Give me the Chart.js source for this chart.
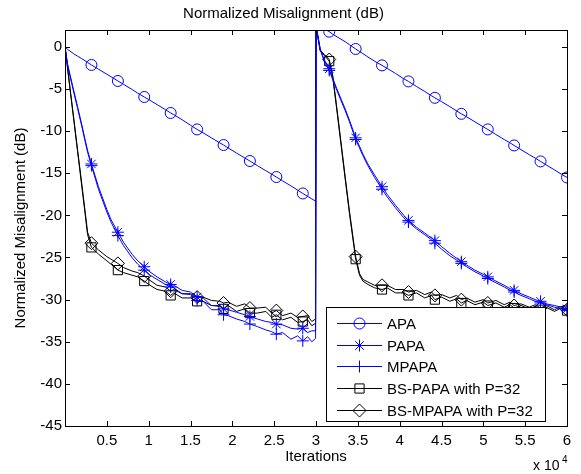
<!DOCTYPE html>
<html><head><meta charset="utf-8">
<script src="https://cdn.jsdelivr.net/npm/chart.js@4/dist/chart.umd.min.js"></script>
<style>html,body{margin:0;padding:0;background:#fff}#wrap{width:581px;height:474px}</style>
</head><body><div id="wrap"><canvas id="c" width="581" height="474"></canvas></div>
<script>
// Iterations (x 10^4)
const iters = [
  0, 0.03, 0.06, 0.1, 0.15, 0.2, 0.24, 0.27, 0.316, 0.4,
  0.5, 0.55, 0.632, 0.7, 0.8, 0.87, 0.947, 1.0, 1.1, 1.2,
  1.263, 1.3, 1.4, 1.5, 1.579, 1.65, 1.75, 1.85, 1.895, 1.95,
  2.05, 2.15, 2.21, 2.3, 2.4, 2.47, 2.526, 2.6, 2.7, 2.78,
  2.842, 2.9, 2.95, 2.995,
  3.0, 3.05, 3.1, 3.158, 3.2, 3.25, 3.3, 3.35, 3.4, 3.474,
  3.52, 3.56, 3.62, 3.7, 3.789, 3.85, 3.95, 4.05, 4.105, 4.2,
  4.3, 4.38, 4.421, 4.5, 4.6, 4.68, 4.737, 4.8, 4.9, 5.0,
  5.053, 5.15, 5.25, 5.32, 5.368, 5.45, 5.55, 5.62, 5.684, 5.75,
  5.85, 5.93, 6.0
];
// iterations where markers are drawn
const markerIters = [0.316, 0.632, 0.947, 1.263, 1.579, 1.895, 2.21, 2.526, 2.842,
  3.158, 3.474, 3.789, 4.105, 4.421, 4.737, 5.053, 5.368, 5.684, 6.0];

const apa = [
  0, -0.3, -0.5, -0.8, -1.1, -1.4, -1.65, -1.85, -2.15, -2.65,
  -3.25, -3.55, -4.05, -4.45, -5.05, -5.5, -5.95, -6.25, -6.85, -7.45,
  -7.85, -8.05, -8.65, -9.3, -9.8, -10.2, -10.8, -11.4, -11.65, -12.0,
  -12.6, -13.2, -13.55, -14.1, -14.7, -15.1, -15.45, -15.9, -16.5, -17.0,
  -17.4, -17.75, -18.05, -18.3,
  2.75, 2.45, 2.15, 1.8, 1.5, 1.2, 0.9, 0.6, 0.25, -0.25,
  -0.55, -0.8, -1.2, -1.7, -2.2, -2.55, -3.15, -3.8, -4.1, -4.7,
  -5.3, -5.8, -6.05, -6.5, -7.1, -7.6, -7.95, -8.3, -8.9, -9.5,
  -9.8, -10.4, -11.0, -11.4, -11.7, -12.2, -12.8, -13.2, -13.6, -14.0,
  -14.6, -15.1, -15.5
];
const papa = [
  0, -2.0, -3.3, -5.0, -7.1, -9.2, -11.0, -12.3, -13.9, -16.6,
  -19.3, -20.5, -22.0, -23.2, -24.6, -25.4, -26.1, -26.6, -27.3, -27.9,
  -28.2, -28.3, -28.9, -29.1, -29.7, -29.8, -30.7, -30.7, -31.1, -31.2,
  -31.5, -31.8, -32.0, -32.3, -32.6, -32.7, -32.9, -33.0, -33.4, -33.5,
  -33.4, -33.9, -33.7, -33.7,
  2.6, -0.2, -1.6, -2.6, -3.7, -5.0, -6.2, -7.4, -8.7, -10.8,
  -11.8, -12.7, -13.9, -15.2, -16.6, -17.5, -18.8, -20.0, -20.6, -21.4,
  -22.1, -22.7, -23.0, -23.7, -24.5, -25.1, -25.5, -25.9, -26.5, -27.0,
  -27.3, -27.8, -28.3, -28.7, -28.9, -29.3, -29.7, -30.0, -30.2, -30.5,
  -30.7, -30.9, -31.1
];
const mpapa = [
  0, -2.1, -3.5, -5.2, -7.3, -9.4, -11.2, -12.5, -14.1, -16.9,
  -19.6, -20.8, -22.4, -23.6, -25.0, -25.8, -26.5, -27.0, -27.6, -28.2,
  -28.5, -28.6, -29.3, -29.4, -30.1, -30.2, -31.2, -31.2, -31.8, -31.9,
  -32.3, -32.6, -32.9, -33.2, -33.6, -33.8, -34.1, -33.9, -34.7, -34.3,
  -34.9, -34.4, -35.0, -34.6,
  2.5, -0.3, -1.8, -2.8, -3.9, -5.2, -6.4, -7.6, -8.9, -11.0,
  -12.0, -12.9, -14.1, -15.5, -16.9, -17.8, -19.1, -20.3, -20.8, -21.6,
  -22.3, -22.9, -23.3, -24.0, -24.8, -25.3, -25.7, -26.1, -26.7, -27.2,
  -27.5, -28.0, -28.5, -28.9, -29.1, -29.5, -29.9, -30.2, -30.4, -30.6,
  -30.9, -31.1, -31.3
];
const bsPapa = [
  0, -2.5, -5.0, -8.3, -12.4, -16.5, -19.8, -22.3, -23.8, -24.6,
  -25.4, -25.8, -26.5, -26.8, -27.1, -27.3, -27.8, -28.2, -28.8, -29.0,
  -29.5, -29.2, -29.8, -29.8, -30.2, -30.2, -30.7, -30.8, -31.1, -30.7,
  -31.4, -31.1, -31.6, -31.6, -31.4, -32.1, -31.8, -32.4, -32.1, -32.7,
  -32.6, -32.4, -33.1, -32.8,
  2.5, -0.5, -1.0, -1.7, -3.6, -7.6, -11.7, -15.8, -19.8, -25.2,
  -27.1, -27.8, -28.2, -28.6, -28.8, -28.6, -29.2, -29.2, -29.5, -29.2,
  -29.8, -29.5, -30.0, -29.7, -30.2, -29.9, -30.4, -30.1, -30.6, -30.3,
  -30.7, -30.4, -30.9, -30.6, -31.0, -30.7, -31.1, -30.8, -31.2, -30.9,
  -31.4, -31.0, -31.3
];
const bsMpapa = [
  0, -2.4, -4.9, -8.1, -12.2, -16.2, -19.5, -22.0, -23.3, -24.1,
  -24.9, -25.2, -25.7, -26.2, -26.6, -26.8, -27.2, -27.6, -28.3, -28.5,
  -29.0, -28.8, -29.3, -29.3, -29.7, -29.7, -30.1, -30.2, -30.4, -30.3,
  -30.8, -30.5, -31.0, -31.0, -30.9, -31.6, -31.3, -31.9, -31.6, -32.1,
  -32.0, -31.9, -32.6, -32.3,
  2.4, -0.4, -0.9, -1.5, -3.4, -7.3, -11.4, -15.5, -19.5, -24.9,
  -26.9, -27.6, -27.9, -28.3, -28.3, -28.3, -28.8, -28.8, -29.1, -28.9,
  -29.4, -29.1, -29.5, -29.4, -29.8, -29.5, -30.0, -29.8, -30.3, -30.0,
  -30.4, -30.1, -30.6, -30.3, -30.7, -30.5, -30.9, -30.6, -31.0, -30.7,
  -31.2, -30.8, -31.2
];
const seriesNames = ['APA', 'PAPA', 'MPAPA', 'BS-PAPA with P=32', 'BS-MPAPA with P=32'];
const xTicks = [0.5, 1, 1.5, 2, 2.5, 3, 3.5, 4, 4.5, 5, 5.5, 6];
const yTicks = [0, -5, -10, -15, -20, -25, -30, -35, -40, -45];

const FONT = 'Liberation Sans, Arial, sans-serif';
const styles = [
  {color: '#0000ff', point: 'circle', r: 5.5},
  {color: '#0000ff', point: 'star', r: 6},
  {color: '#0000ff', point: 'cross', r: 6},
  {color: '#000000', point: 'rect', r: 6.5},
  {color: '#000000', point: 'rectRot', r: 6.5}
];
const values = [apa, papa, mpapa, bsPapa, bsMpapa];

const datasets = values.map((vals, i) => ({
  label: seriesNames[i],
  data: iters.map((x, k) => ({x: x, y: vals[k]})),
  borderColor: styles[i].color,
  borderWidth: 1,
  backgroundColor: 'transparent',
  pointStyle: styles[i].point,
  pointBorderColor: styles[i].color,
  pointBackgroundColor: 'rgba(0,0,0,0)',
  pointBorderWidth: 1,
  pointRadius: (ctx) => markerIters.includes(iters[ctx.dataIndex]) ? styles[i].r : 0,
  tension: 0,
  fill: false
}));

function drawMarker(ctx, style, r, x, y) {
  ctx.beginPath();
  if (style === 'circle') {
    ctx.arc(x, y, r, 0, Math.PI * 2);
  } else if (style === 'star' || style === 'cross') {
    ctx.moveTo(x - r, y); ctx.lineTo(x + r, y);
    ctx.moveTo(x, y - r); ctx.lineTo(x, y + r);
    if (style === 'star') {
      const d = r * Math.SQRT1_2;
      ctx.moveTo(x - d, y - d); ctx.lineTo(x + d, y + d);
      ctx.moveTo(x - d, y + d); ctx.lineTo(x + d, y - d);
    }
  } else if (style === 'rect') {
    const s = r * Math.SQRT1_2;
    ctx.rect(x - s, y - s, 2 * s, 2 * s);
  } else if (style === 'rectRot') {
    ctx.moveTo(x - r, y); ctx.lineTo(x, y - r); ctx.lineTo(x + r, y); ctx.lineTo(x, y + r); ctx.closePath();
  }
  ctx.stroke();
}

const matlabPlugin = {
  id: 'matlabBox',
  afterDraw(chart) {
    const ctx = chart.ctx;
    const a = chart.chartArea;
    const xs = chart.scales.x, ys = chart.scales.y;
    ctx.save();
    ctx.strokeStyle = '#000';
    ctx.lineWidth = 1;
    ctx.beginPath();
    xTicks.forEach(v => {
      const px = Math.round(xs.getPixelForValue(v)) + 0.5;
      ctx.moveTo(px, a.bottom); ctx.lineTo(px, a.bottom - 5);
      ctx.moveTo(px, a.top); ctx.lineTo(px, a.top + 5);
    });
    yTicks.forEach(v => {
      const py = Math.round(ys.getPixelForValue(v)) + 0.5;
      ctx.moveTo(a.left, py); ctx.lineTo(a.left + 5, py);
      ctx.moveTo(a.right, py); ctx.lineTo(a.right - 5, py);
    });
    ctx.stroke();
    ctx.strokeRect(Math.round(a.left) + 0.5, Math.round(a.top) + 0.5,
      Math.round(a.right - a.left), Math.round(a.bottom - a.top));

    // legend
    const lx = 326.5, ly = 307.5, lw = 219, lh = 114;
    ctx.fillStyle = '#fff';
    ctx.fillRect(lx, ly, lw, lh);
    ctx.strokeStyle = '#000';
    ctx.strokeRect(lx, ly, lw, lh);
    ctx.font = '15px ' + FONT;
    ctx.textBaseline = 'middle';
    ctx.textAlign = 'left';
    chart.data.datasets.forEach((ds, i) => {
      const y = Math.round(322.7 + i * 21.8) + 0.5;
      ctx.strokeStyle = styles[i].color;
      ctx.lineWidth = 1;
      ctx.beginPath();
      ctx.moveTo(337, y); ctx.lineTo(382, y);
      ctx.stroke();
      drawMarker(ctx, styles[i].point, styles[i].r, 359.5, y);
      ctx.fillStyle = '#000';
      ctx.fillText(ds.label, 387, y + 1);
    });

    // x 10^4 multiplier
    ctx.fillStyle = '#000';
    ctx.textBaseline = 'alphabetic';
    ctx.font = '14px ' + FONT;
    ctx.fillText('x 10', 533, 470);
    ctx.font = '10px ' + FONT;
    ctx.fillText('4', 562, 463);
    ctx.restore();
  }
};

new Chart(document.getElementById('c'), {
  type: 'line',
  data: {datasets},
  options: {
    responsive: false,
    animation: false,
    devicePixelRatio: 1,
    layout: {padding: {left: 0, right: 14, top: 0, bottom: 0}},
    plugins: {
      legend: {display: false},
      tooltip: {enabled: false},
      title: {
        display: true,
        text: 'Normalized Misalignment (dB)',
        color: '#000',
        font: {family: FONT, size: 15, weight: 'normal'},
        padding: {top: 5, bottom: 7}
      }
    },
    scales: {
      x: {
        type: 'linear',
        min: 0, max: 6,
        afterBuildTicks: (s) => { s.ticks = xTicks.map(v => ({value: v})); },
        afterFit: (s) => { s.height = 48; },
        grid: {display: false, drawTicks: false},
        border: {display: false},
        ticks: {
          color: '#000', font: {family: FONT, size: 15}, padding: 6,
          maxRotation: 0, autoSkip: false,
          callback: (v) => String(v)
        },
        title: {
          display: true, text: 'Iterations', color: '#000',
          font: {family: FONT, size: 15}, padding: {top: 0, bottom: 8}
        }
      },
      y: {
        type: 'linear',
        min: -45, max: 2,
        afterBuildTicks: (s) => { s.ticks = yTicks.map(v => ({value: v})); },
        afterFit: (s) => { s.width = 65; },
        grid: {display: false, drawTicks: false},
        border: {display: false},
        ticks: {
          color: '#000', font: {family: FONT, size: 15}, padding: 3,
          autoSkip: false,
          callback: (v) => String(v)
        },
        title: {
          display: true, text: 'Normalized Misalignment (dB)', color: '#000',
          font: {family: FONT, size: 15}, padding: {top: 12, bottom: 0}
        }
      }
    }
  },
  plugins: [matlabPlugin]
});
</script>
</body></html>
